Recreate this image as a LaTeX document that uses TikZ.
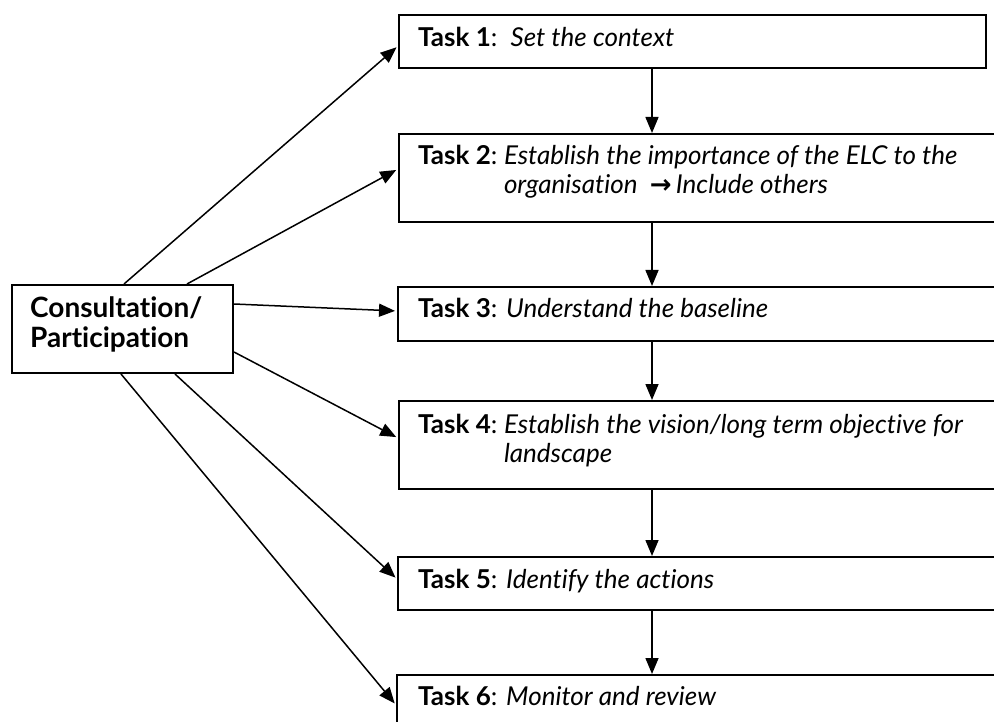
\documentclass[tikz,border=0pt]{standalone}
\usepackage{fontspec}
\setmainfont{Lato}[Ligatures={NoCommon,NoDiscretionary}]
\newfontfamily\arrowfont{DejaVu Sans}
\usetikzlibrary{arrows.meta}
\tikzset{
  taskbox/.style={draw=black, line width=2pt, inner sep=0pt, anchor=north west},
  lbl/.style={anchor=base west, inner sep=0pt, font=\fontsize{26}{30}\selectfont},
  arr/.style={draw=black, line width=1.5pt, -{Triangle[length=16pt,width=13pt]}},
}
\newcommand{\tk}[1]{\textbf{Task #1}:}
\begin{document}
\begin{tikzpicture}[x=1pt,y=-1pt]
\useasboundingbox (0,0) rectangle (994,722);
\clip (0,0) rectangle (994,722);
% boxes
\node[taskbox, minimum width=587pt, minimum height=53pt] (t1) at (398,14) {};
\node[taskbox, minimum width=610pt, minimum height=88pt] (t2) at (398,133) {};
\node[taskbox, minimum width=610pt, minimum height=54pt] (t3) at (397,286) {};
\node[taskbox, minimum width=610pt, minimum height=88pt] (t4) at (398,400) {};
\node[taskbox, minimum width=610pt, minimum height=53pt] (t5) at (397,556) {};
\node[taskbox, minimum width=610pt, minimum height=60pt] (t6) at (396,674) {};
\node[taskbox, minimum width=221pt, minimum height=88pt] (cons) at (11,284) {};
% labels
\node[lbl] (l1) at (418,47) {\tk{1}\ \ \textit{Set the context}};
\node[lbl] (l2) at (418,165) {\begin{tabular}[t]{@{}l@{\ }l@{}}\tk{2} & \textit{Establish the importance of the ELC to the}\\[-1pt] & \textit{organisation\ \ {\arrowfont\upshape\bfseries→}\,Include others}\end{tabular}};
\node[lbl] (l3) at (418,318) {\tk{3} \textit{Understand the baseline}};
\node[lbl] (l4) at (418,433) {\begin{tabular}[t]{@{}l@{\ }l@{}}\tk{4} & \textit{Establish the vision/long term objective for}\\[-1pt] & \textit{landscape}\end{tabular}};
\node[lbl] (l5) at (418,588) {\tk{5} \textit{Identify the actions}};
\node[lbl] (l6) at (418,705) {\tk{6} \textit{Monitor and review}};
\node[anchor=base west, inner sep=0pt, font=\fontsize{28}{31}\selectfont\bfseries] (lc) at (30,317) {\begin{tabular}[t]{@{}l@{}}Consultation/\\Participation\end{tabular}};
% vertical arrows
\coordinate (ax) at (652,0);
\draw[arr] (t1.south -| ax) -- (t2.north -| ax);
\draw[arr] (t2.south -| ax) -- (t3.north -| ax);
\draw[arr] (t3.south -| ax) -- (t4.north -| ax);
\draw[arr] (t4.south -| ax) -- (t5.north -| ax);
\draw[arr] (t5.south -| ax) -- (t6.north -| ax);
% diagonal arrows
\draw[arr, shorten >=2pt] ([xshift=113pt]cons.north west) -- ([yshift=-4.5pt]t1.west);
\draw[arr, shorten >=2pt] ([xshift=176pt]cons.north west) -- ([yshift=9pt]t2.west);
\draw[arr, shorten >=2pt] ([yshift=-20pt]cons.north east) -- ([yshift=3pt]t3.west);
\draw[arr, shorten >=2pt] ([yshift=-68pt]cons.north east) -- ([yshift=7pt]t4.west);
\draw[arr, shorten >=2pt] ([xshift=164pt]cons.south west) -- ([yshift=4.5pt]t5.west);
\draw[arr, shorten >=2pt] ([xshift=110pt]cons.south west) -- (t6.west);
\end{tikzpicture}
\end{document}
